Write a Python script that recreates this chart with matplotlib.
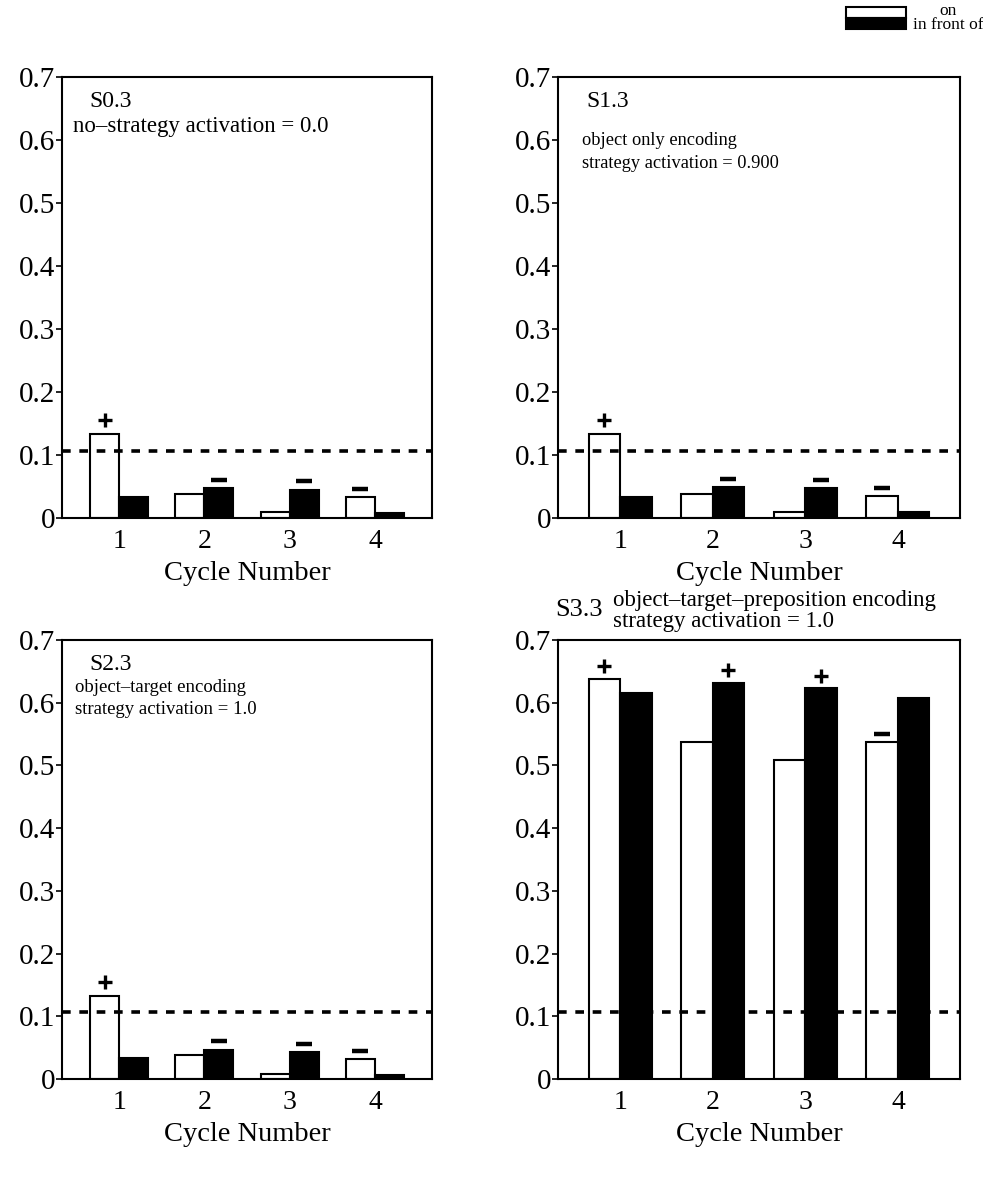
import numpy as np
import matplotlib
matplotlib.use("Agg")
from matplotlib import pyplot as plt
from matplotlib.patches import Rectangle

plt.rcParams['font.family'] = ['Liberation Serif', 'DejaVu Serif']

cycles = [1, 2, 3, 4]
chance = 0.107

s0_on = [0.133, 0.038, 0.010, 0.033]
s0_front = [0.033, 0.048, 0.045, 0.008]
s1_on = [0.133, 0.038, 0.010, 0.035]
s1_front = [0.033, 0.049, 0.047, 0.010]
s2_on = [0.133, 0.038, 0.008, 0.032]
s2_front = [0.033, 0.047, 0.043, 0.006]
s3_on = [0.638, 0.538, 0.508, 0.537]
s3_front = [0.615, 0.632, 0.623, 0.607]

# sign above a bar: (symbol, which bar)
marks_low = [('+', 'on'), ('-', 'front'), ('-', 'front'), ('-', 'on')]
marks_s3 = [('+', 'on'), ('+', 'front'), ('+', 'front'), ('-', 'on')]

yticks = [0, 0.1, 0.2, 0.3, 0.4, 0.5, 0.6, 0.7]
ytick_labels = ['0', '0.1', '0.2', '0.3', '0.4', '0.5', '0.6', '0.7']

W, H = 983, 1183
fig = plt.figure(figsize=(W / 100, H / 100), dpi=100)


def px_axes(l, r, t, b):
    return fig.add_axes([l / W, 1 - b / H, (r - l) / W, (b - t) / H])


def panel(ax, on, front, marks, plus_off=0.022):
    width = 0.34
    x = np.array(cycles)
    ax.bar(x - width / 2, on, width, color='white', edgecolor='black', linewidth=1.5)
    ax.bar(x + width / 2, front, width, color='black', edgecolor='black', linewidth=1.5)
    ax.axhline(chance, color='black', lw=2.6, ls=(0, (2.4, 2.4)))
    for i, (sym, which) in enumerate(marks):
        if which == 'on':
            xx, yy = x[i] - width / 2, on[i]
        else:
            xx, yy = x[i] + width / 2, front[i]
        if sym == '+':
            ax.plot(xx, yy + plus_off, marker='+', ms=10, mew=2.4, color='black')
        else:
            ax.plot(xx, yy + 0.013, marker='_', ms=12, mew=3.2, color='black')
    ax.set_xlim(0.33, 4.67)
    ax.set_ylim(0, 0.7)
    ax.set_yticks(yticks, ytick_labels)
    ax.set_xticks(cycles, [str(c) for c in cycles])
    ax.tick_params(axis='y', direction='out', length=4, width=1.2, labelsize=21, pad=1)
    ax.tick_params(axis='x', length=0, labelsize=20, pad=8)
    ax.set_xlabel('Cycle Number', fontsize=20.5, labelpad=5)
    for sp in ax.spines.values():
        sp.set_linewidth(1.5)


ax0 = px_axes(62, 432, 77, 518)
panel(ax0, s0_on, s0_front, marks_low)
ax0.text(0.075, 0.945, 'S0.3', transform=ax0.transAxes, fontsize=17, va='center')
ax0.text(0.03, 0.887, 'no\u2013strategy activation = 0.0', transform=ax0.transAxes, fontsize=16.5, va='center')

ax1 = px_axes(558, 960, 77, 518)
panel(ax1, s1_on, s1_front, marks_low)
ax1.text(0.07, 0.945, 'S1.3', transform=ax1.transAxes, fontsize=17, va='center')
ax1.text(0.06, 0.83, 'object only encoding\nstrategy activation = 0.900', transform=ax1.transAxes,
         fontsize=13.2, va='center', linespacing=1.4)

ax2 = px_axes(62, 432, 640, 1079)
panel(ax2, s2_on, s2_front, marks_low)
ax2.text(0.075, 0.945, 'S2.3', transform=ax2.transAxes, fontsize=17, va='center')
ax2.text(0.035, 0.866, 'object\u2013target encoding\nstrategy activation = 1.0', transform=ax2.transAxes,
         fontsize=13.5, va='center', linespacing=1.4)

ax3 = px_axes(558, 960, 640, 1079)
panel(ax3, s3_on, s3_front, marks_s3, plus_off=0.02)
ax3.text(-0.007, 1.068, 'S3.3', transform=ax3.transAxes, fontsize=19, va='center')
ax3.text(0.137, 1.066, 'object\u2013target\u2013preposition encoding\nstrategy activation = 1.0',
         transform=ax3.transAxes, fontsize=16.5, va='center', linespacing=0.95)

# legend at top right
fig.patches.append(Rectangle((846 / W, 1 - 18 / H), 60 / W, 11 / H, transform=fig.transFigure,
                             facecolor='white', edgecolor='black', lw=1.5))
fig.patches.append(Rectangle((846 / W, 1 - 29 / H), 60 / W, 11 / H, transform=fig.transFigure,
                             facecolor='black', edgecolor='black', lw=1.5))
fig.text(913 / W, 1 - 18 / H, 'on\nin front of', ha='left', va='center', fontsize=12.5,
         multialignment='center', linespacing=0.8)

fig.savefig('out.png', dpi=100, facecolor='white')
